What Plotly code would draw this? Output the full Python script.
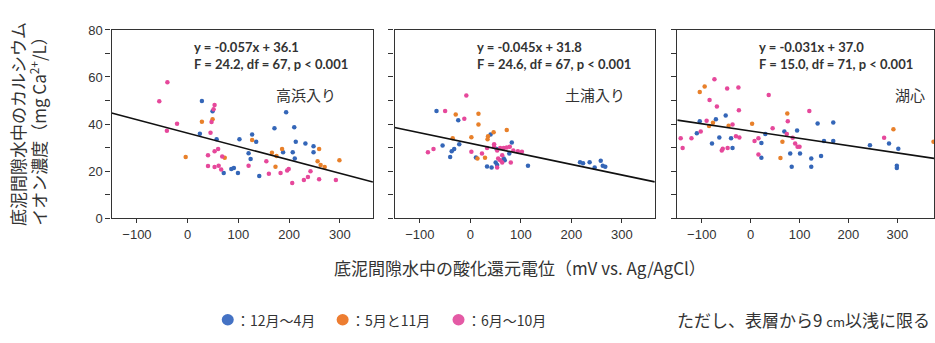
import plotly.graph_objects as go

# ---- data: ORP (mV vs. Ag/AgCl) and Ca2+ (mg/L) by season, per station ----
# Takahama-iri
takahama_dec_apr_orp = [28, 49, 24, 57, 102, 71, 86, 91, 99, 194, 210, 171, 127, 135, 213, 232, 248, 248, 207, 188, 120, 124, 211, 141]
takahama_dec_apr_ca = [49.8, 45.4, 35.9, 33.5, 33.5, 19.2, 20.9, 21.3, 19.2, 45.0, 38.6, 38.2, 35.5, 32.4, 32.4, 31.7, 30.5, 28.0, 28.0, 28.0, 27.6, 25.1, 25.3, 17.9]
takahama_may_nov_orp = [28, 49, -4, 73, 127, 166, 186, 175, 173, 259, 256, 262, 270, 299]
takahama_may_nov_ca = [41.0, 42.0, 26.0, 25.6, 33.2, 27.8, 29.4, 26.4, 21.8, 29.4, 24.2, 22.6, 21.7, 24.6]
takahama_jun_oct_orp = [-40, -56, -21, -41, 53, 51, 47, 45, 60, 53, 40, 68, 40, 53, 61, 66, 155, 120, 199, 196, 183, 160, 242, 237, 229, 206, 259, 292]
takahama_jun_oct_ca = [57.8, 49.7, 40.1, 37.1, 48.1, 46.3, 40.9, 36.3, 29.4, 28.4, 26.7, 26.2, 22.1, 21.7, 22.2, 20.7, 24.2, 22.2, 20.9, 20.2, 19.2, 18.8, 19.9, 17.5, 16.2, 14.9, 16.5, 16.2]

# Tsuchiura-iri
tsuchiura_dec_apr_orp = [-67, -24, -55, -32, -37, -40, -22, 11, 40, 33, 42, 82, 50, 53, 66, 68, 77, 52, 114, 217, 223, 236, 246, 258, 262, 267]
tsuchiura_dec_apr_ca = [45.5, 41.6, 30.9, 29.4, 28.4, 26.0, 31.4, 25.7, 35.5, 21.9, 21.5, 32.1, 23.6, 22.6, 25.3, 24.6, 27.4, 29.4, 22.2, 23.7, 23.3, 23.7, 21.5, 24.4, 22.2, 21.8]
tsuchiura_may_nov_orp = [-29, 16, 16, -35, 2, 35, 34, 46, 72, 14, 29]
tsuchiura_may_nov_ca = [44.0, 44.4, 39.8, 33.9, 34.4, 34.8, 33.5, 36.5, 37.5, 25.3, 25.6]
tsuchiura_jun_oct_orp = [-8, -50, -12, -84, -73, 2, 23, 33, 47, 47, 53, 59, 66, 55, 63, 53, 80, 78, 85, 94, 102, 59, 72, 63]
tsuchiura_jun_oct_ca = [52.1, 45.5, 42.2, 28.0, 29.4, 28.2, 27.5, 29.8, 31.4, 30.3, 28.7, 29.8, 29.8, 25.3, 23.6, 21.5, 23.6, 30.3, 28.7, 28.4, 28.2, 24.6, 30.0, 26.7]

# Lake center
center_dec_apr_orp = [-104, -110, -71, -51, -79, -64, -40, -37, 22, 30, 22, 69, 81, 84, 95, 101, 124, 124, 144, 137, 169, 150, 169, 244, 283, 302, 299, 299]
center_dec_apr_ca = [41.2, 36.1, 42.0, 43.6, 31.7, 34.3, 33.9, 29.8, 31.9, 35.7, 25.6, 36.8, 27.5, 21.8, 37.2, 27.5, 25.3, 21.8, 26.4, 40.2, 40.6, 32.8, 32.8, 31.0, 31.7, 29.5, 22.2, 21.3]
center_may_nov_orp = [-94, -104, -77, -85, -45, 3, 75, 65, 61, 292, 374]
center_may_nov_ca = [56.0, 53.6, 40.5, 39.2, 39.3, 40.1, 44.5, 32.4, 25.5, 37.8, 32.4]
center_jun_oct_orp = [-74, -48, -25, -84, -69, -24, 37, -90, -37, -143, -139, -121, -102, -57, -59, -47, -30, -23, 8, 16, 45, 74, 76, 91, 16, 120, 86, 96, 100, 273]
center_jun_oct_ca = [59.0, 55.1, 55.5, 50.2, 47.4, 45.9, 52.3, 41.4, 39.8, 33.9, 29.8, 33.9, 36.8, 29.5, 28.7, 29.8, 34.8, 34.3, 32.8, 33.9, 38.2, 35.7, 41.2, 31.7, 27.0, 45.5, 34.1, 30.3, 30.3, 34.1]

# regression fits: slope, intercept, statistics text
station_names = ["高浜入り", "土浦入り", "湖心"]
fit_slopes = [-0.057, -0.045, -0.031]
fit_intercepts = [36.1, 31.8, 37.0]
fit_stats = ["F = 24.2, df = 67, p < 0.001", "F = 24.6, df = 67, p < 0.001", "F = 15.0, df = 71, p < 0.001"]

season_labels = ["：12月～4月", "：5月と11月", "：6月～10月"]
season_colors = ["#3466b8", "#e8802a", "#e6489b"]
legend_colors = ["#4472c4", "#ed7d31", "#e45aa5"]

x_ranges = [[-150, 365], [-150, 365], [-150, 375]]
y_ticks = [0, 20, 40, 60, 80]
x_ticks = [-100, 0, 100, 200, 300]

stations = [
    [(takahama_dec_apr_orp, takahama_dec_apr_ca), (takahama_may_nov_orp, takahama_may_nov_ca), (takahama_jun_oct_orp, takahama_jun_oct_ca)],
    [(tsuchiura_dec_apr_orp, tsuchiura_dec_apr_ca), (tsuchiura_may_nov_orp, tsuchiura_may_nov_ca), (tsuchiura_jun_oct_orp, tsuchiura_jun_oct_ca)],
    [(center_dec_apr_orp, center_dec_apr_ca), (center_may_nov_orp, center_may_nov_ca), (center_jun_oct_orp, center_jun_oct_ca)],
]

W, H = 935, 343


def px(x):
    return x / W


def py(y):
    return 1 - y / H


panel_px = [(111.7, 373.3), (395, 655.5), (678, 935)]
plot_top, plot_bottom = 24, 220.7

JP = "Noto Sans CJK JP"
TXT = "#333333"

fig = go.Figure()

for i, groups in enumerate(stations):
    xa = "x" if i == 0 else f"x{i + 1}"
    ya = "y" if i == 0 else f"y{i + 1}"
    for (orp, ca), col in zip(groups, season_colors):
        fig.add_trace(go.Scatter(
            x=orp, y=ca, mode="markers", xaxis=xa, yaxis=ya,
            marker=dict(size=4.5, color=col, line=dict(width=0)),
            showlegend=False, hoverinfo="x+y",
        ))
    # fitted line over the full axis range
    x0, x1 = x_ranges[i]
    fig.add_trace(go.Scatter(
        x=[x0, x1], y=[fit_slopes[i] * x0 + fit_intercepts[i], fit_slopes[i] * x1 + fit_intercepts[i]],
        mode="lines", xaxis=xa, yaxis=ya, line=dict(color="#111111", width=1.6),
        showlegend=False, hoverinfo="skip",
    ))

axis_line = dict(showline=True, linecolor="#333333", linewidth=1.3, mirror=True,
                 showgrid=False, zeroline=False)

layout = dict(
    width=W, height=H, margin=dict(l=0, r=0, t=0, b=0),
    paper_bgcolor="white", plot_bgcolor="white",
    font=dict(family="Liberation Sans", color=TXT, size=13),
)
for i in range(3):
    xk = "xaxis" if i == 0 else f"xaxis{i + 1}"
    yk = "yaxis" if i == 0 else f"yaxis{i + 1}"
    l, r = panel_px[i]
    layout[xk] = dict(
        domain=[px(l), min(px(r), 1.0)], range=x_ranges[i], anchor="y" if i == 0 else f"y{i + 1}",
        tickvals=x_ticks, ticks="outside", ticklen=4, tickcolor="#333333",
        tickfont=dict(size=13, color=TXT), **axis_line,
    )
    layout[yk] = dict(
        domain=[py(plot_bottom), py(plot_top)], range=[0, 80], anchor="x" if i == 0 else f"x{i + 1}",
        tickvals=y_ticks, ticks="outside", ticklen=5, tickcolor="#333333",
        minor=dict(dtick=10, ticks="outside", ticklen=5, tickcolor="#333333"),
        showticklabels=(i == 0), tickfont=dict(size=13, color=TXT), **axis_line,
    )
fig.update_layout(**layout)

ann = []
eq_left = [192, 476, 758]
name_right = [338, 628, 928]
for i in range(3):
    eq = f"y = -{abs(fit_slopes[i]):.3f}x + {fit_intercepts[i]:.1f}"
    ann.append(dict(x=px(eq_left[i]), y=py(41.5), xref="paper", yref="paper", text=f"<b>{eq}</b>",
                    showarrow=False, xanchor="left", yanchor="middle",
                    font=dict(family="Lato", size=13, color=TXT)))
    ann.append(dict(x=px(eq_left[i]), y=py(59.3), xref="paper", yref="paper", text=f"<b>{fit_stats[i]}</b>",
                    showarrow=False, xanchor="left", yanchor="middle",
                    font=dict(family="Lato", size=13, color=TXT)))
    ann.append(dict(x=px(name_right[i]), y=py(91.5), xref="paper", yref="paper", text=station_names[i],
                    showarrow=False, xanchor="right", yanchor="middle",
                    font=dict(family=JP, size=15, color=TXT)))

# axis titles
ann.append(dict(x=px(18), y=py(231), xref="paper", yref="paper", text="底泥間隙水中のカルシウム",
                textangle=-90, showarrow=False, xanchor="center", yanchor="bottom",
                font=dict(family=JP, size=17, color=TXT)))
ann.append(dict(x=px(38), y=py(231), xref="paper", yref="paper",
                text="イオン濃度（mg Ca<sup>2+</sup>/L）",
                textangle=-90, showarrow=False, xanchor="center", yanchor="bottom",
                font=dict(family=JP, size=17, color=TXT)))
ann.append(dict(x=px(521), y=py(272), xref="paper", yref="paper",
                text="底泥間隙水中の酸化還元電位（mV vs. Ag/AgCl）",
                showarrow=False, xanchor="center", yanchor="middle",
                font=dict(family=JP, size=17, color=TXT)))

# season key
key_x = [228, 343, 459]
shapes = []
for kx, col, lab in zip(key_x, legend_colors, season_labels):
    r = 6
    shapes.append(dict(type="circle", xref="paper", yref="paper",
                       x0=px(kx - r), x1=px(kx + r), y0=py(327 + r), y1=py(327 - r),
                       fillcolor=col, line=dict(width=0)))
    ann.append(dict(x=px(kx + 6), y=py(327), xref="paper", yref="paper", text=lab,
                    showarrow=False, xanchor="left", yanchor="middle",
                    font=dict(family=JP, size=14, color=TXT)))
ann.append(dict(x=px(933), y=py(327), xref="paper", yref="paper",
                text="ただし、表層から9 <span style='font-size:13px'>cm</span>以浅に限る",
                showarrow=False, xanchor="right", yanchor="middle",
                font=dict(family=JP, size=17, color=TXT)))

fig.update_layout(annotations=ann, shapes=shapes)
fig.write_html("out.html")
